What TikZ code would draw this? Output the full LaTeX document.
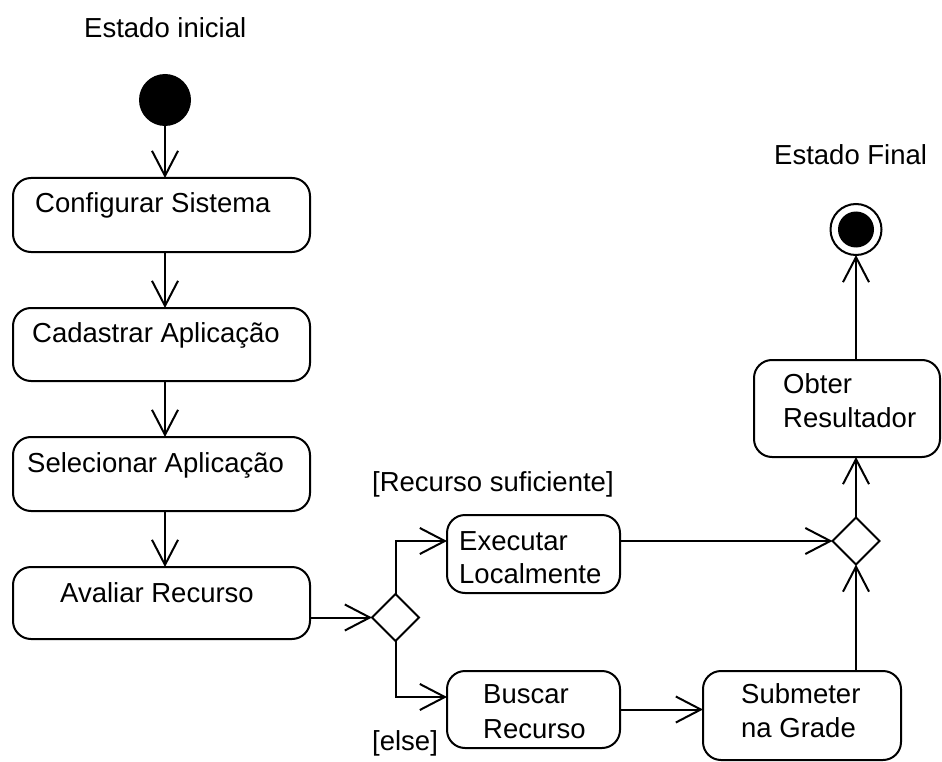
\documentclass[tikz,border=0pt]{standalone}
\usepackage{fontspec}
\setmainfont{Liberation Sans}
\usetikzlibrary{shapes.geometric,arrows.meta}

\tikzset{
  activity/.style={draw, line width=2pt, rounded corners=18pt, inner sep=0pt, outer sep=0pt},
  decision/.style={draw, diamond, line width=2pt, minimum width=47pt, minimum height=47pt, inner sep=0pt, outer sep=0pt},
  lbl/.style={inner sep=0pt, anchor=base west, font=\fontsize{27.5}{33}\selectfont},
  flow/.style={line width=2pt, -{Straight Barb[length=25pt, width=26pt, line width=2pt]}},
}

\begin{document}
\begin{tikzpicture}[x=1pt, y=-1pt]
\useasboundingbox (0,0) rectangle (942,762);

% start and end states
\node[circle, fill=black, minimum size=52pt, inner sep=0pt, outer sep=0pt] (init) at (165,100) {};
\node[circle, draw, line width=2pt, minimum size=51pt, inner sep=0pt, outer sep=0pt] (fin) at (856,229.5) {};
\node[circle, fill=black, minimum size=36pt, inner sep=0pt] (fincore) at (fin) {};

% activities
\node[activity, minimum width=297pt, minimum height=74pt] (conf) at (161.5,215) {};
\node[activity, minimum width=297pt, minimum height=73pt] (cad)  at (161.5,344.5) {};
\node[activity, minimum width=297pt, minimum height=74pt] (sel)  at (161.5,474) {};
\node[activity, minimum width=297pt, minimum height=72pt] (aval) at (161.5,603) {};
\node[activity, minimum width=173pt, minimum height=78pt] (exec) at (533.5,554) {};
\node[activity, minimum width=173pt, minimum height=77pt] (busc) at (533.5,709.5) {};
\node[activity, minimum width=198pt, minimum height=89pt] (sub)  at (802,715.5) {};
\node[activity, minimum width=186pt, minimum height=97pt] (obt)  at (847,408.5) {};

% decisions
\node[decision] (d1) at (395.5,617.5) {};
\node[decision] (d2) at (856,541) {};

% texts
\node[lbl] (tinit) at (84,38)   {Estado inicial};
\node[lbl] (tfin)  at (774,165) {Estado Final};
\node[lbl] (tconf) at (35,213)  {Configurar Sistema};
\node[lbl] (tcad)  at (32,342)  {Cadastrar Aplicação};
\node[lbl] (tsel)  at (27,472)  {Selecionar Aplicação};
\node[lbl] (taval) at (60,602)  {Avaliar Recurso};
\node[lbl] (texe1) at (459,550) {Executar};
\node[lbl] (texe2) at (459,583) {Localmente};
\node[lbl] (tbus1) at (483,703) {Buscar};
\node[lbl] (tbus2) at (483,738) {Recurso};
\node[lbl] (tsub1) at (741,703) {Submeter};
\node[lbl] (tsub2) at (741,737) {na Grade};
\node[lbl] (tobt1) at (783,393) {Obter};
\node[lbl] (tobt2) at (783,427) {Resultador};
\node[lbl] (gyes)  at (372,491) {[Recurso suficiente]};
\node[lbl] (gelse) at (372,750) {[else]};

% transitions
\draw[flow] (init) -- (init |- conf.north);
\draw[flow] (init |- conf.south) -- (init |- cad.north);
\draw[flow] (init |- cad.south) -- (init |- sel.north);
\draw[flow] (init |- sel.south) -- (init |- aval.north);
\draw[flow] (aval.east |- d1.west) -- (d1.west);
\draw[flow] (d1.north) |- (exec.west |- d2);
\draw[flow] (d1.south) |- ([yshift=12.5pt]busc.west);
\draw[flow] (exec.east |- d2) -- (d2.west);
\draw[flow] (busc.east) -- (busc.east -| sub.west);
\draw[flow] (sub.north -| d2) -- (d2.south);
\draw[flow] (d2.north) -- (d2 |- obt.south);
\draw[flow] (obt.north -| fin) -- (fin.south);
\end{tikzpicture}
\end{document}
